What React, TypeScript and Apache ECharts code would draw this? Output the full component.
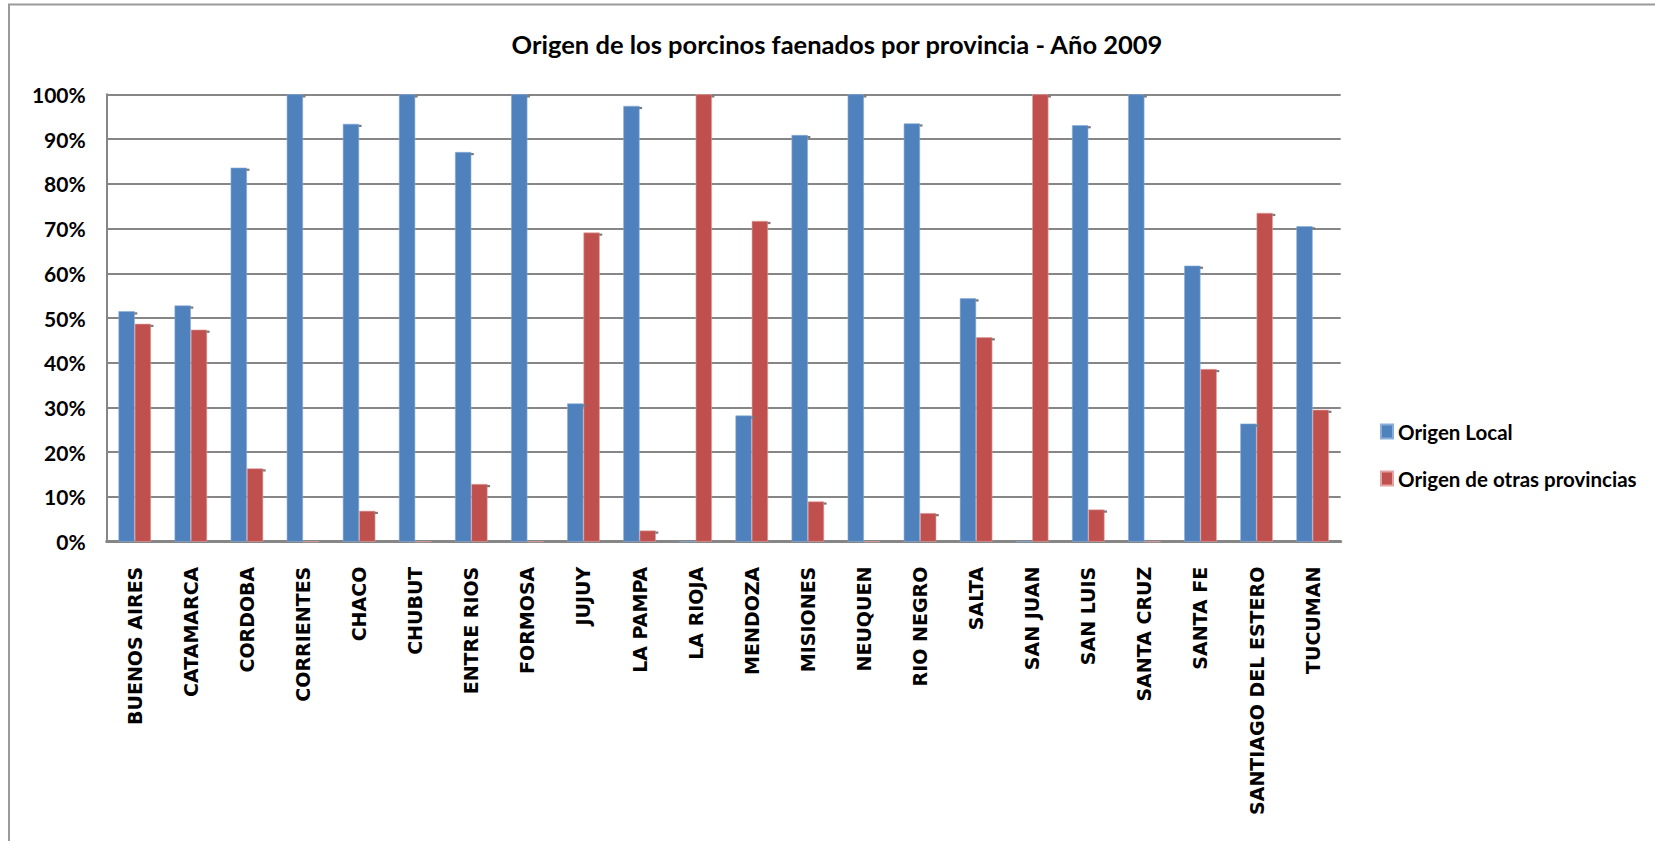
import React, { useEffect, useRef } from "react";
import * as echarts from "echarts";

const provinces = [
  "BUENOS AIRES", "CATAMARCA", "CORDOBA", "CORRIENTES", "CHACO", "CHUBUT",
  "ENTRE RIOS", "FORMOSA", "JUJUY", "LA PAMPA", "LA RIOJA", "MENDOZA",
  "MISIONES", "NEUQUEN", "RIO NEGRO", "SALTA", "SAN JUAN", "SAN LUIS",
  "SANTA CRUZ", "SANTA FE", "SANTIAGO DEL ESTERO", "TUCUMAN",
];

const origenLocal = [
  51.5, 52.8, 83.6, 100, 93.4, 100, 87.1, 100, 30.9, 97.4, 0, 28.2,
  90.9, 100, 93.5, 54.4, 0, 93.1, 100, 61.7, 26.4, 70.5,
];

const origenOtras = [
  48.7, 47.4, 16.4, 0, 6.9, 0, 12.9, 0, 69.1, 2.5, 100, 71.7,
  9.0, 0, 6.4, 45.7, 100, 7.2, 0, 38.6, 73.5, 29.5,
];

const yTicks = [0, 10, 20, 30, 40, 50, 60, 70, 80, 90, 100];

const seriesNames = ["Origen Local", "Origen de otras provincias"];
const titleText = "Origen de los porcinos faenados por provincia - Año 2009";

const CATEGORY_GAP = 0.42;

export default function App() {
  const ref = useRef<HTMLDivElement>(null);

  useEffect(() => {
    if (!ref.current) return;
    const chart = echarts.init(ref.current, undefined, { renderer: "svg" });
    const labelFont = "Lato, 'Open Sans', sans-serif";
    const cornerData = provinces.map((_, i) => [i, origenLocal[i], origenOtras[i]]);
    chart.setOption({
      animation: false,
      backgroundColor: "#ffffff",
      title: {
        text: titleText,
        left: 832,
        textAlign: "center",
        top: 26,
        textStyle: {
          fontFamily: labelFont,
          fontWeight: "bold",
          fontSize: 25.5,
          color: "#000",
        },
      },
      legend: {
        orient: "vertical",
        left: 1375,
        top: 416,
        itemWidth: 12,
        itemHeight: 14,
        itemGap: 26,
        icon: "rect",
        data: seriesNames,
        textStyle: {
          fontFamily: labelFont,
          fontWeight: "bold",
          fontSize: 20.5,
          color: "#000",
        },
      },
      graphic: [
        {
          type: "rect",
          shape: { x: 9, y: 4.5, width: 1700, height: 900 },
          style: { fill: "none", stroke: "#9a9a9a", lineWidth: 2 },
          silent: true,
        },
      ],
      grid: {
        left: 106.7,
        right: 314.3,
        top: 94.3,
        bottom: 299.3,
        containLabel: false,
      },
      xAxis: {
        type: "category",
        data: provinces,
        axisLine: { show: true, lineStyle: { color: "#868686", width: 3 } },
        axisTick: { show: false },
        axisLabel: {
          rotate: 90,
          interval: 0,
          margin: 25,
          fontFamily: "'DejaVu Sans', Verdana, sans-serif",
          fontWeight: "bold",
          fontSize: 19,
          color: "#000",
        },
      },
      yAxis: {
        type: "value",
        min: 0,
        max: 100,
        interval: 10,
        axisLine: { show: true, lineStyle: { color: "#868686", width: 2 } },
        axisTick: { show: false },
        splitLine: { show: true, lineStyle: { color: "#868686", width: 2 } },
        axisLabel: {
          margin: 21,
          formatter: (v: number) => (yTicks.includes(v) ? v + "%" : ""),
          fontFamily: labelFont,
          fontWeight: "bold",
          fontSize: 21,
          color: "#000",
        },
      },
      series: [
        {
          name: seriesNames[0],
          type: "bar",
          data: origenLocal,
          barGap: "0%",
          barCategoryGap: CATEGORY_GAP * 100 + "%",
          itemStyle: { color: "#4F81BD", borderColor: "#8AADD8", borderWidth: 0.6 },
        },
        {
          name: seriesNames[1],
          type: "bar",
          data: origenOtras,
          barGap: "0%",
          barCategoryGap: CATEGORY_GAP * 100 + "%",
          itemStyle: { color: "#C0504D", borderColor: "#E3A3A1", borderWidth: 0.6 },
        },
        {
          name: "corners",
          type: "custom",
          data: cornerData,
          silent: true,
          z: 5,
          renderItem: (params: any, api: any) => {
            const i = api.value(0);
            const band = api.size([1, 0])[0];
            const barW = (band * (1 - CATEGORY_GAP)) / 2;
            const children: any[] = [];
            [1, 2].forEach((dim, s) => {
              const v = api.value(dim);
              if (!(v > 0)) return;
              const [cx, cy] = api.coord([i, v]);
              const edge = s === 0 ? cx : cx + barW;
              children.push({
                type: "rect",
                shape: { x: edge - 0.5, y: cy + 1, width: 3, height: 2.2 },
                style: { fill: "#7a7a7a" },
              });
            });
            return { type: "group", children };
          },
        },
      ],
    });
    return () => chart.dispose();
  }, []);

  return (
    <div
      ref={ref}
      style={{ position: "absolute", left: 0, top: 0, width: 1655, height: 841 }}
    />
  );
}
